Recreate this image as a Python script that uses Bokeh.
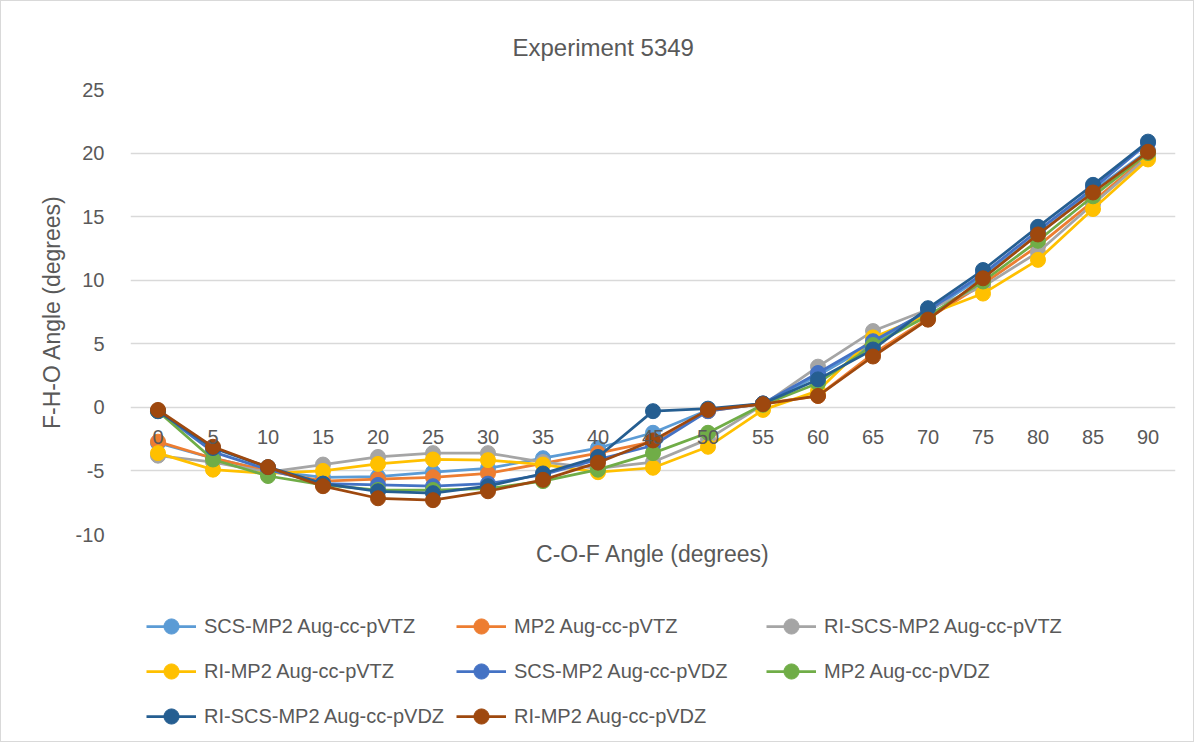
from bokeh.plotting import figure
from bokeh.layouts import column
from bokeh.models import (FactorRange, Range1d, CategoricalAxis, FixedTicker, Legend,
                          LegendItem, Title)
from bokeh.embed import file_html
from bokeh.resources import INLINE

angles = ["0", "5", "10", "15", "20", "25", "30", "35", "40", "45",
          "50", "55", "60", "65", "70", "75", "80", "85", "90"]
y_ticks = [-10, -5, 0, 5, 10, 15, 20, 25]

series_names = ["SCS-MP2 Aug-cc-pVTZ", "MP2 Aug-cc-pVTZ", "RI-SCS-MP2 Aug-cc-pVTZ",
                "RI-MP2 Aug-cc-pVTZ", "SCS-MP2 Aug-cc-pVDZ", "MP2 Aug-cc-pVDZ",
                "RI-SCS-MP2 Aug-cc-pVDZ", "RI-MP2 Aug-cc-pVDZ"]
series_colors = ["#5B9BD5", "#ED7D31", "#A5A5A5", "#FFC000",
                 "#4472C4", "#70AD47", "#255E91", "#9E480E"]

scs_mp2_vtz = [-2.8, -4.0, -5.0, -5.5, -5.45, -5.1, -4.8, -4.0, -3.2, -2.0,
               -0.2, 0.3, 2.5, 5.0, 7.5, 10.3, 13.6, 17.0, 20.2]
mp2_vtz = [-2.7, -4.0, -5.0, -5.8, -5.65, -5.5, -5.2, -4.4, -3.6, -2.7,
           -0.3, 0.3, 0.9, 4.2, 7.0, 9.7, 12.7, 16.2, 19.8]
ri_scs_mp2_vtz = [-3.8, -4.3, -5.1, -4.5, -3.9, -3.6, -3.6, -4.3, -4.8, -4.3,
                  -2.5, 0.2, 3.2, 6.0, 7.7, 9.5, 12.2, 16.0, 19.7]
ri_mp2_vtz = [-3.6, -4.9, -5.2, -5.0, -4.45, -4.1, -4.15, -4.5, -5.1, -4.75,
              -3.1, -0.2, 1.3, 5.5, 7.3, 8.95, 11.6, 15.6, 19.5]
scs_mp2_vdz = [-0.3, -3.5, -4.9, -6.0, -6.1, -6.2, -6.0, -5.3, -4.1, -3.0,
               -0.3, 0.3, 2.7, 5.2, 7.6, 10.5, 13.9, 17.2, 20.8]
mp2_vdz = [-0.3, -4.1, -5.4, -6.1, -6.5, -6.5, -6.4, -5.8, -4.9, -3.6,
           -2.0, 0.2, 1.9, 4.9, 7.2, 9.9, 13.1, 16.6, 20.0]
ri_scs_mp2_vdz = [-0.3, -3.2, -4.7, -6.0, -6.6, -6.75, -6.2, -5.2, -3.9, -0.3,
                  -0.1, 0.3, 2.2, 4.55, 7.8, 10.8, 14.2, 17.5, 20.9]
ri_mp2_vdz = [-0.2, -3.1, -4.7, -6.2, -7.15, -7.3, -6.6, -5.7, -4.35, -2.6,
              -0.2, 0.25, 0.9, 4.0, 6.9, 10.15, 13.6, 16.9, 20.1]

all_series = [scs_mp2_vtz, mp2_vtz, ri_scs_mp2_vtz, ri_mp2_vtz,
              scs_mp2_vdz, mp2_vdz, ri_scs_mp2_vdz, ri_mp2_vdz]

FONT = "Liberation Sans"
TXT = "#595959"
GRID = "#D9D9D9"

# ---------------- main chart ----------------
p = figure(frame_width=1045, frame_height=445, output_backend="svg", toolbar_location=None,
           x_range=FactorRange(factors=angles), y_range=Range1d(-10, 25),
           x_axis_location=None, min_border_left=129, min_border_right=18,
           min_border_top=88, min_border_bottom=50)
p.outline_line_color = None
p.background_fill_color = "white"
p.border_fill_color = "white"

p.title = Title(text="Experiment 5349", align="left", offset=382,
                text_font_size="24px", text_color=TXT, text_font=FONT,
                text_font_style="normal", standoff=58)

p.yaxis.ticker = FixedTicker(ticks=y_ticks)
p.yaxis.major_label_overrides = {t: str(t) for t in y_ticks}
p.yaxis.axis_line_color = None
p.yaxis.major_tick_line_color = None
p.yaxis.minor_tick_line_color = None
p.yaxis.major_label_standoff = 20
p.yaxis.major_label_text_font_size = "20px"
p.yaxis.major_label_text_font = FONT
p.yaxis.major_label_text_color = TXT
p.yaxis.axis_label = "F-H-O Angle (degrees)"
p.yaxis.axis_label_text_font_size = "23px"
p.yaxis.axis_label_text_font = FONT
p.yaxis.axis_label_text_color = TXT
p.yaxis.axis_label_text_font_style = "normal"
p.yaxis.axis_label_standoff = 8
p.ygrid.grid_line_color = GRID
p.ygrid.grid_line_width = 1.3
p.xgrid.grid_line_color = None

# category axis crossing at y = 0
xaxis = CategoricalAxis(fixed_location=0)
xaxis.axis_line_color = None
xaxis.major_tick_line_color = None
xaxis.minor_tick_line_color = None
xaxis.major_label_standoff = 17
xaxis.major_label_text_font_size = "20px"
xaxis.major_label_text_font = FONT
xaxis.major_label_text_color = TXT
p.add_layout(xaxis, "below")

p.add_layout(Title(text="C-O-F Angle (degrees)", align="center", text_font_size="23px",
                   text_font=FONT, text_color=TXT, text_font_style="normal",
                   standoff=8), "below")

for name, color, vals in zip(series_names, series_colors, all_series):
    p.line(angles, vals, line_color=color, line_width=2.75)
    p.scatter(angles, vals, size=15, fill_color=color, line_color=color)

# ---------------- legend strip ----------------
# the strip's ranges lie outside the data, so only the legend's own samples show
lf = figure(width=1192, height=157, output_backend="svg", toolbar_location=None,
            title=None, x_range=FactorRange(factors=angles), y_range=Range1d(100, 101),
            x_axis_location=None, y_axis_location=None,
            min_border_left=0, min_border_right=0, min_border_top=0, min_border_bottom=0)
lf.outline_line_color = None
lf.background_fill_color = "white"
lf.border_fill_color = "white"
lf.grid.visible = False

items = []
for name, color, vals in zip(series_names, series_colors, all_series):
    ln = lf.line(angles, vals, line_color=color, line_width=2.75)
    sc = lf.scatter(angles, vals, size=15, fill_color=color, line_color=color)
    items.append(LegendItem(label=name, renderers=[ln, sc]))

legend = Legend(items=items, location=(16, 6), orientation="horizontal", ncols=3,
                glyph_width=50, glyph_height=38, label_height=38, label_width=245,
                spacing=7, padding=0, margin=0, label_standoff=8,
                label_text_font_size="20px", label_text_font=FONT,
                label_text_color=TXT, border_line_color=None,
                background_fill_alpha=0)
lf.add_layout(legend, "center")

layout = column(p, lf, spacing=0)
layout.styles = {"border": "1px solid #D9D9D9", "background-color": "white"}

open("out.html", "w").write(file_html(layout, INLINE))
